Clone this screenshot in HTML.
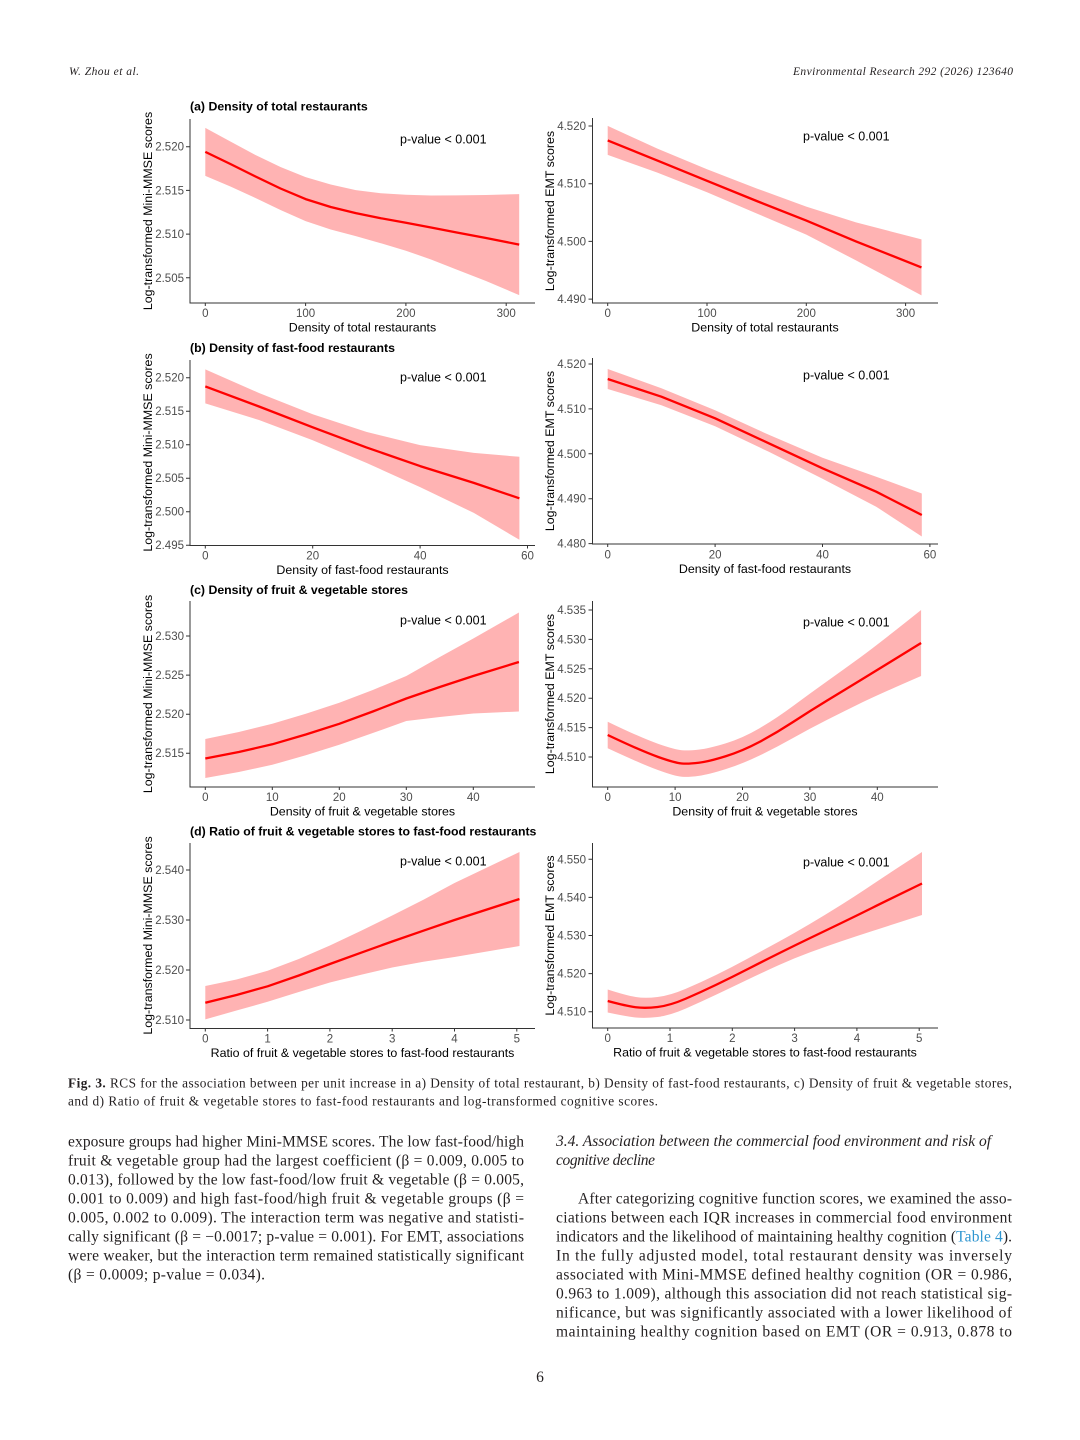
<!DOCTYPE html>
<html>
<head>
<meta charset="utf-8">
<style>
html,body{margin:0;padding:0;background:#fff;}
svg{display:block;}
text{font-family:"Liberation Sans",sans-serif;}
.tk{font-size:11.5px;fill:#4d4d4d;}
.ti{font-size:12.4px;fill:#000;}
.pt{font-size:12.3px;font-weight:bold;fill:#000;}
.pv{font-size:12.5px;fill:#000;}
.bd{font-family:"Liberation Serif",serif;font-size:15.5px;fill:#231f20;}
.cp{font-family:"Liberation Serif",serif;font-size:13.3px;fill:#231f20;}
.hd{font-family:"Liberation Serif",serif;font-size:11.5px;font-style:italic;fill:#231f20;}
.band{fill:#ffb3b3;stroke:none;}
.ln{fill:none;stroke:#ff0000;stroke-width:2.3;stroke-linejoin:round;stroke-linecap:butt;}
.ax{fill:none;stroke:#333;stroke-width:1;}
</style>
</head>
<body>
<svg width="1080" height="1440" viewBox="0 0 1080 1440" xmlns="http://www.w3.org/2000/svg">
<rect width="1080" height="1440" fill="#fff"/>

<!-- header -->
<text class="hd" x="69" y="75" textLength="70" lengthAdjust="spacing">W. Zhou et al.</text>
<text class="hd" x="1013" y="75" text-anchor="end" textLength="220" lengthAdjust="spacing">Environmental Research 292 (2026) 123640</text>

<!-- ============ PANEL A LEFT ============ -->
<text class="pt" x="190" y="110.5">(a) Density of total restaurants</text>
<polygon class="band" points="205.3,127.9 230.4,141.5 255.5,155 280.5,167 305.6,177.1 330.7,184.5 355.8,190.1 380.8,193.2 405.9,194.7 431,195.5 456.1,195.4 486,195 519.2,194.1 519.2,295.1 486,281 456.1,269.4 431,259.5 405.9,250.7 380.8,243.2 355.8,236.1 330.7,229.5 305.6,221.1 280.5,210 255.5,198 230.4,186.5 205.3,175.9"/>
<polyline class="ln" points="205.3,151.9 230.4,164 255.5,176.5 280.5,188.5 305.6,199.1 330.7,207 355.8,213.1 380.8,218.2 405.9,222.7 431,227.5 456.1,232.4 486,238 519.2,244.6"/>
<path class="ax" d="M190,119 V303 H535 M186,146.7 H190 M186,190.4 H190 M186,234.1 H190 M186,277.8 H190 M205.3,303 V306 M305.6,303 V306 M405.9,303 V306 M506.2,303 V306"/>
<text class="tk" x="184" y="150.7" text-anchor="end">2.520</text>
<text class="tk" x="184" y="194.4" text-anchor="end">2.515</text>
<text class="tk" x="184" y="238.1" text-anchor="end">2.510</text>
<text class="tk" x="184" y="281.8" text-anchor="end">2.505</text>
<text class="tk" x="205.3" y="317" text-anchor="middle">0</text>
<text class="tk" x="305.6" y="317" text-anchor="middle">100</text>
<text class="tk" x="405.9" y="317" text-anchor="middle">200</text>
<text class="tk" x="506.2" y="317" text-anchor="middle">300</text>
<text class="ti" x="362.5" y="331.5" text-anchor="middle">Density of total restaurants</text>
<text class="ti" transform="translate(152,211) rotate(-90)" text-anchor="middle">Log-transformed Mini-MMSE scores</text>
<text class="pv" x="400" y="143.5">p-value &lt; 0.001</text>

<!-- ============ PANEL A RIGHT ============ -->
<polygon class="band" points="607.7,125.9 657.4,148.6 707,169.3 756.7,188.5 806.3,206.6 856,222.4 888.8,230.9 921.5,239.4 921.5,295.4 888.8,277.9 856,260.4 806.3,234.6 756.7,213.5 707,192.3 657.4,172.6 607.7,154.9"/>
<polyline class="ln" points="607.7,140.4 657.4,160.6 707,180.8 756.7,201 806.3,220.6 856,241.4 888.8,254.4 921.5,267.4"/>
<path class="ax" d="M592.5,118 V303 H938 M588.5,126 H592.5 M588.5,183.7 H592.5 M588.5,241.4 H592.5 M588.5,299.1 H592.5 M607.7,303 V306 M707,303 V306 M806.3,303 V306 M905.6,303 V306"/>
<text class="tk" x="586" y="130" text-anchor="end">4.520</text>
<text class="tk" x="586" y="187.7" text-anchor="end">4.510</text>
<text class="tk" x="586" y="245.4" text-anchor="end">4.500</text>
<text class="tk" x="586" y="303.1" text-anchor="end">4.490</text>
<text class="tk" x="607.7" y="317" text-anchor="middle">0</text>
<text class="tk" x="707" y="317" text-anchor="middle">100</text>
<text class="tk" x="806.3" y="317" text-anchor="middle">200</text>
<text class="tk" x="905.6" y="317" text-anchor="middle">300</text>
<text class="ti" x="765" y="331.5" text-anchor="middle">Density of total restaurants</text>
<text class="ti" transform="translate(554,211) rotate(-90)" text-anchor="middle">Log-transformed EMT scores</text>
<text class="pv" x="803" y="140.5">p-value &lt; 0.001</text>

<!-- ============ PANEL B LEFT ============ -->
<text class="pt" x="190" y="352">(b) Density of fast-food restaurants</text>
<polygon class="band" points="205.3,369.4 259,393 312.7,414.3 366.4,431.9 420.1,445.1 473.8,452.9 519.4,456.8 519.4,539.8 473.8,512.9 420.1,487.1 366.4,462.9 312.7,440.3 259,420 205.3,403.4"/>
<polyline class="ln" points="205.3,386.4 259,406.5 312.7,427.3 366.4,447.4 420.1,466.1 473.8,482.9 519.4,498.3"/>
<path class="ax" d="M190,360 V545.5 H535 M186,377.7 H190 M186,411.2 H190 M186,444.7 H190 M186,478.2 H190 M186,511.7 H190 M186,545.2 H190 M205.3,545.5 V548.5 M312.7,545.5 V548.5 M420.1,545.5 V548.5 M527.5,545.5 V548.5"/>
<text class="tk" x="184" y="381.7" text-anchor="end">2.520</text>
<text class="tk" x="184" y="415.2" text-anchor="end">2.515</text>
<text class="tk" x="184" y="448.7" text-anchor="end">2.510</text>
<text class="tk" x="184" y="482.2" text-anchor="end">2.505</text>
<text class="tk" x="184" y="515.7" text-anchor="end">2.500</text>
<text class="tk" x="184" y="549.2" text-anchor="end">2.495</text>
<text class="tk" x="205.3" y="559.5" text-anchor="middle">0</text>
<text class="tk" x="312.7" y="559.5" text-anchor="middle">20</text>
<text class="tk" x="420.1" y="559.5" text-anchor="middle">40</text>
<text class="tk" x="527.5" y="559.5" text-anchor="middle">60</text>
<text class="ti" x="362.5" y="574" text-anchor="middle">Density of fast-food restaurants</text>
<text class="ti" transform="translate(152,452.5) rotate(-90)" text-anchor="middle">Log-transformed Mini-MMSE scores</text>
<text class="pv" x="400" y="381.5">p-value &lt; 0.001</text>

<!-- ============ PANEL B RIGHT ============ -->
<polygon class="band" points="607.7,369 661.4,388.2 715.1,410.3 768.8,434.8 822.5,457.8 876.2,476.7 921.8,493.5 921.8,536.5 876.2,506.7 822.5,478.8 768.8,451.8 715.1,426.3 661.4,405.2 607.7,389"/>
<polyline class="ln" points="607.7,379 661.4,396.7 715.1,418.3 768.8,443.3 822.5,468.3 876.2,491.7 921.8,515"/>
<path class="ax" d="M592.5,358 V544 H938 M588.5,364 H592.5 M588.5,408.9 H592.5 M588.5,453.8 H592.5 M588.5,498.7 H592.5 M588.5,543.6 H592.5 M607.7,544 V547 M715.1,544 V547 M822.5,544 V547 M929.9,544 V547"/>
<text class="tk" x="586" y="368" text-anchor="end">4.520</text>
<text class="tk" x="586" y="412.9" text-anchor="end">4.510</text>
<text class="tk" x="586" y="457.8" text-anchor="end">4.500</text>
<text class="tk" x="586" y="502.7" text-anchor="end">4.490</text>
<text class="tk" x="586" y="547.6" text-anchor="end">4.480</text>
<text class="tk" x="607.7" y="558.5" text-anchor="middle">0</text>
<text class="tk" x="715.1" y="558.5" text-anchor="middle">20</text>
<text class="tk" x="822.5" y="558.5" text-anchor="middle">40</text>
<text class="tk" x="929.9" y="558.5" text-anchor="middle">60</text>
<text class="ti" x="765" y="573" text-anchor="middle">Density of fast-food restaurants</text>
<text class="ti" transform="translate(554,451) rotate(-90)" text-anchor="middle">Log-transformed EMT scores</text>
<text class="pv" x="803" y="379.5">p-value &lt; 0.001</text>

<!-- ============ PANEL C LEFT ============ -->
<text class="pt" x="190" y="594">(c) Density of fruit &amp; vegetable stores</text>
<polygon class="band" points="205.3,739 238.8,732 272.3,723.8 305.8,713.7 339.3,702.8 372.8,690 406.3,676 439.8,657 473.3,638.5 518.9,612.5 518.9,711.5 473.3,713.5 439.8,717 406.3,721 372.8,733 339.3,744.8 305.8,755.3 272.3,764.8 238.8,772 205.3,778"/>
<polyline class="ln" points="205.3,758.5 238.8,752 272.3,744.3 305.8,734.5 339.3,723.8 372.8,711.5 406.3,698.5 439.8,687 473.3,676 518.9,662"/>
<path class="ax" d="M190,601 V787 H535 M186,636 H190 M186,675.1 H190 M186,714.2 H190 M186,753.2 H190 M205.3,787 V790 M272.3,787 V790 M339.3,787 V790 M406.3,787 V790 M473.3,787 V790"/>
<text class="tk" x="184" y="640" text-anchor="end">2.530</text>
<text class="tk" x="184" y="679.1" text-anchor="end">2.525</text>
<text class="tk" x="184" y="718.2" text-anchor="end">2.520</text>
<text class="tk" x="184" y="757.2" text-anchor="end">2.515</text>
<text class="tk" x="205.3" y="801" text-anchor="middle">0</text>
<text class="tk" x="272.3" y="801" text-anchor="middle">10</text>
<text class="tk" x="339.3" y="801" text-anchor="middle">20</text>
<text class="tk" x="406.3" y="801" text-anchor="middle">30</text>
<text class="tk" x="473.3" y="801" text-anchor="middle">40</text>
<text class="ti" x="362.5" y="815.5" text-anchor="middle">Density of fruit &amp; vegetable stores</text>
<text class="ti" transform="translate(152,694) rotate(-90)" text-anchor="middle">Log-transformed Mini-MMSE scores</text>
<text class="pv" x="400" y="624.5">p-value &lt; 0.001</text>

<!-- ============ PANEL C RIGHT ============ -->
<path class="band" d="M607.7,721.7 Q641.4,738 658.25,743.85 Q675.1,749.7 681.85,750.2 Q688.6,750.7 698.7,749.6 Q708.8,748.5 725.65,743.35 Q742.5,738.2 759.35,728.35 Q776.2,718.5 793.05,706 Q809.9,693.5 826.75,681.5 Q843.6,669.5 860.45,657.25 Q877.3,645 921.1,610 L921.1,676 Q877.3,695 860.45,703.25 Q843.6,711.5 826.75,720 Q809.9,728.5 793.05,738 Q776.2,747.5 759.35,755.65 Q742.5,763.8 725.65,769.15 Q708.8,774.5 698.7,775.9 Q688.6,777.3 681.85,776.8 Q675.1,776.3 658.25,770.15 Q641.4,764 607.7,748.3 Z"/>
<path class="ln" d="M607.7,735 Q641.4,751 658.25,757 Q675.1,763 681.85,763.5 Q688.6,764 698.7,762.75 Q708.8,761.5 725.65,756.25 Q742.5,751 759.35,742 Q776.2,733 793.05,722 Q809.9,711 826.75,700.75 Q843.6,690.5 860.45,680.25 Q877.3,670 921.1,643"/>
<path class="ax" d="M592.5,601 V787 H938 M588.5,610 H592.5 M588.5,639.4 H592.5 M588.5,668.8 H592.5 M588.5,698.2 H592.5 M588.5,727.6 H592.5 M588.5,757 H592.5 M607.7,787 V790 M675.1,787 V790 M742.5,787 V790 M809.9,787 V790 M877.3,787 V790"/>
<text class="tk" x="586" y="614" text-anchor="end">4.535</text>
<text class="tk" x="586" y="643.4" text-anchor="end">4.530</text>
<text class="tk" x="586" y="672.8" text-anchor="end">4.525</text>
<text class="tk" x="586" y="702.2" text-anchor="end">4.520</text>
<text class="tk" x="586" y="731.6" text-anchor="end">4.515</text>
<text class="tk" x="586" y="761" text-anchor="end">4.510</text>
<text class="tk" x="607.7" y="801" text-anchor="middle">0</text>
<text class="tk" x="675.1" y="801" text-anchor="middle">10</text>
<text class="tk" x="742.5" y="801" text-anchor="middle">20</text>
<text class="tk" x="809.9" y="801" text-anchor="middle">30</text>
<text class="tk" x="877.3" y="801" text-anchor="middle">40</text>
<text class="ti" x="765" y="815.5" text-anchor="middle">Density of fruit &amp; vegetable stores</text>
<text class="ti" transform="translate(554,694) rotate(-90)" text-anchor="middle">Log-transformed EMT scores</text>
<text class="pv" x="803" y="626.5">p-value &lt; 0.001</text>

<!-- ============ PANEL D LEFT ============ -->
<text class="pt" x="190" y="835.5">(d) Ratio of fruit &amp; vegetable stores to fast-food restaurants</text>
<polygon class="band" points="205.3,986 236.5,979.5 267.6,970.8 298.8,959 329.9,945.5 361.1,930.7 392.2,915.5 423.4,899.7 454.5,883 519.5,852 519.5,946 454.5,957 423.4,961.7 392.2,967.5 361.1,974.7 329.9,982.5 298.8,992 267.6,1001.8 236.5,1010.5 205.3,1019.4"/>
<polyline class="ln" points="205.3,1002.7 236.5,995 267.6,986.3 298.8,975.5 329.9,964 361.1,952.7 392.2,941.5 423.4,930.7 454.5,920 519.5,899"/>
<path class="ax" d="M190,843 V1028.5 H535 M186,870 H190 M186,920 H190 M186,970 H190 M186,1020 H190 M205.3,1028.5 V1031.5 M267.6,1028.5 V1031.5 M329.9,1028.5 V1031.5 M392.2,1028.5 V1031.5 M454.5,1028.5 V1031.5 M516.8,1028.5 V1031.5"/>
<text class="tk" x="184" y="874" text-anchor="end">2.540</text>
<text class="tk" x="184" y="924" text-anchor="end">2.530</text>
<text class="tk" x="184" y="974" text-anchor="end">2.520</text>
<text class="tk" x="184" y="1024" text-anchor="end">2.510</text>
<text class="tk" x="205.3" y="1042.5" text-anchor="middle">0</text>
<text class="tk" x="267.6" y="1042.5" text-anchor="middle">1</text>
<text class="tk" x="329.9" y="1042.5" text-anchor="middle">2</text>
<text class="tk" x="392.2" y="1042.5" text-anchor="middle">3</text>
<text class="tk" x="454.5" y="1042.5" text-anchor="middle">4</text>
<text class="tk" x="516.8" y="1042.5" text-anchor="middle">5</text>
<text class="ti" x="362.5" y="1057" text-anchor="middle">Ratio of fruit &amp; vegetable stores to fast-food restaurants</text>
<text class="ti" transform="translate(152,935.5) rotate(-90)" text-anchor="middle">Log-transformed Mini-MMSE scores</text>
<text class="pv" x="400" y="865.5">p-value &lt; 0.001</text>

<!-- ============ PANEL D RIGHT ============ -->
<path class="band" d="M607.7,989.5 Q626.4,995.5 635.75,997 Q645.1,998.5 657.55,997 Q670,995.5 685.6,988.85 Q701.2,982.2 716.75,974.6 Q732.3,967 747.9,958.5 Q763.5,950 779.05,941.5 Q794.6,933 810.2,923.75 Q825.8,914.5 841.35,904.75 Q856.9,895 872.45,884.5 Q888,874 922,852 L922,915 Q888,926 872.45,931 Q856.9,936 841.35,941.25 Q825.8,946.5 810.2,952.25 Q794.6,958 779.05,965 Q763.5,972 747.9,979.5 Q732.3,987 716.75,994.4 Q701.2,1001.8 685.6,1008.65 Q670,1015.5 657.55,1017 Q645.1,1018.5 635.75,1017.5 Q626.4,1016.5 607.7,1012.5 Z"/>
<path class="ln" d="M607.7,1001 Q626.4,1006 635.75,1007.25 Q645.1,1008.5 657.55,1007 Q670,1005.5 685.6,998.75 Q701.2,992 716.75,984.5 Q732.3,977 747.9,969 Q763.5,961 779.05,953.25 Q794.6,945.5 810.2,938 Q825.8,930.5 841.35,923 Q856.9,915.5 872.45,907.75 Q888,900 922,883.5"/>
<path class="ax" d="M592.5,843 V1028 H938 M588.5,859.3 H592.5 M588.5,897.4 H592.5 M588.5,935.5 H592.5 M588.5,973.6 H592.5 M588.5,1011.7 H592.5 M607.7,1028 V1031 M670,1028 V1031 M732.3,1028 V1031 M794.6,1028 V1031 M856.9,1028 V1031 M919.2,1028 V1031"/>
<text class="tk" x="586" y="863.3" text-anchor="end">4.550</text>
<text class="tk" x="586" y="901.4" text-anchor="end">4.540</text>
<text class="tk" x="586" y="939.5" text-anchor="end">4.530</text>
<text class="tk" x="586" y="977.6" text-anchor="end">4.520</text>
<text class="tk" x="586" y="1015.7" text-anchor="end">4.510</text>
<text class="tk" x="607.7" y="1042" text-anchor="middle">0</text>
<text class="tk" x="670" y="1042" text-anchor="middle">1</text>
<text class="tk" x="732.3" y="1042" text-anchor="middle">2</text>
<text class="tk" x="794.6" y="1042" text-anchor="middle">3</text>
<text class="tk" x="856.9" y="1042" text-anchor="middle">4</text>
<text class="tk" x="919.2" y="1042" text-anchor="middle">5</text>
<text class="ti" x="765" y="1056.5" text-anchor="middle">Ratio of fruit &amp; vegetable stores to fast-food restaurants</text>
<text class="ti" transform="translate(554,935.5) rotate(-90)" text-anchor="middle">Log-transformed EMT scores</text>
<text class="pv" x="803" y="866.5">p-value &lt; 0.001</text>

<!-- ============ CAPTION ============ -->
<text class="cp" x="68" y="1087.3" textLength="944" lengthAdjust="spacing"><tspan font-weight="bold">Fig. 3.</tspan>  RCS for the association between per unit increase in a) Density of total restaurant, b) Density of fast-food restaurants, c) Density of fruit &amp; vegetable stores,</text>
<text class="cp" x="68" y="1105.7" textLength="590" lengthAdjust="spacing">and d) Ratio of fruit &amp; vegetable stores to fast-food restaurants and log-transformed cognitive scores.</text>

<!-- ============ BODY LEFT ============ -->
<text class="bd" x="68" y="1146.5" textLength="456" lengthAdjust="spacing">exposure groups had higher Mini-MMSE scores. The low fast-food/high</text>
<text class="bd" x="68" y="1165.5" textLength="456" lengthAdjust="spacing">fruit &amp; vegetable group had the largest coefficient (β = 0.009, 0.005 to</text>
<text class="bd" x="68" y="1184.5" textLength="456" lengthAdjust="spacing">0.013), followed by the low fast-food/low fruit &amp; vegetable (β = 0.005,</text>
<text class="bd" x="68" y="1203.5" textLength="456" lengthAdjust="spacing">0.001 to 0.009) and high fast-food/high fruit &amp; vegetable groups (β =</text>
<text class="bd" x="68" y="1222.5" textLength="456" lengthAdjust="spacing">0.005, 0.002 to 0.009). The interaction term was negative and statisti-</text>
<text class="bd" x="68" y="1241.5" textLength="456" lengthAdjust="spacing">cally significant (β = −0.0017; p-value = 0.001). For EMT, associations</text>
<text class="bd" x="68" y="1260.5" textLength="456" lengthAdjust="spacing">were weaker, but the interaction term remained statistically significant</text>
<text class="bd" x="68" y="1279.5" textLength="197" lengthAdjust="spacing">(β = 0.0009; p-value = 0.034).</text>

<!-- ============ BODY RIGHT ============ -->
<text class="bd" x="556" y="1146" font-style="italic" textLength="435" lengthAdjust="spacing">3.4.  Association between the commercial food environment and risk of</text>
<text class="bd" x="556" y="1165" font-style="italic" textLength="99" lengthAdjust="spacing">cognitive decline</text>
<text class="bd" x="578" y="1203.5" textLength="434" lengthAdjust="spacing">After categorizing cognitive function scores, we examined the asso-</text>
<text class="bd" x="556" y="1222.5" textLength="456" lengthAdjust="spacing">ciations between each IQR increases in commercial food environment</text>
<text class="bd" x="556" y="1241.5" textLength="456" lengthAdjust="spacing">indicators and the likelihood of maintaining healthy cognition (<tspan fill="#2e95d0">Table 4</tspan>).</text>
<text class="bd" x="556" y="1260.5" textLength="456" lengthAdjust="spacing">In the fully adjusted model, total restaurant density was inversely</text>
<text class="bd" x="556" y="1279.5" textLength="456" lengthAdjust="spacing">associated with Mini-MMSE defined healthy cognition (OR = 0.986,</text>
<text class="bd" x="556" y="1298.5" textLength="456" lengthAdjust="spacing">0.963 to 1.009), although this association did not reach statistical sig-</text>
<text class="bd" x="556" y="1317.5" textLength="456" lengthAdjust="spacing">nificance, but was significantly associated with a lower likelihood of</text>
<text class="bd" x="556" y="1336.5" textLength="456" lengthAdjust="spacing">maintaining healthy cognition based on EMT (OR = 0.913, 0.878 to</text>

<!-- page number -->
<text class="bd" x="540" y="1382" text-anchor="middle" font-size="12">6</text>
</svg>
</body>
</html>
